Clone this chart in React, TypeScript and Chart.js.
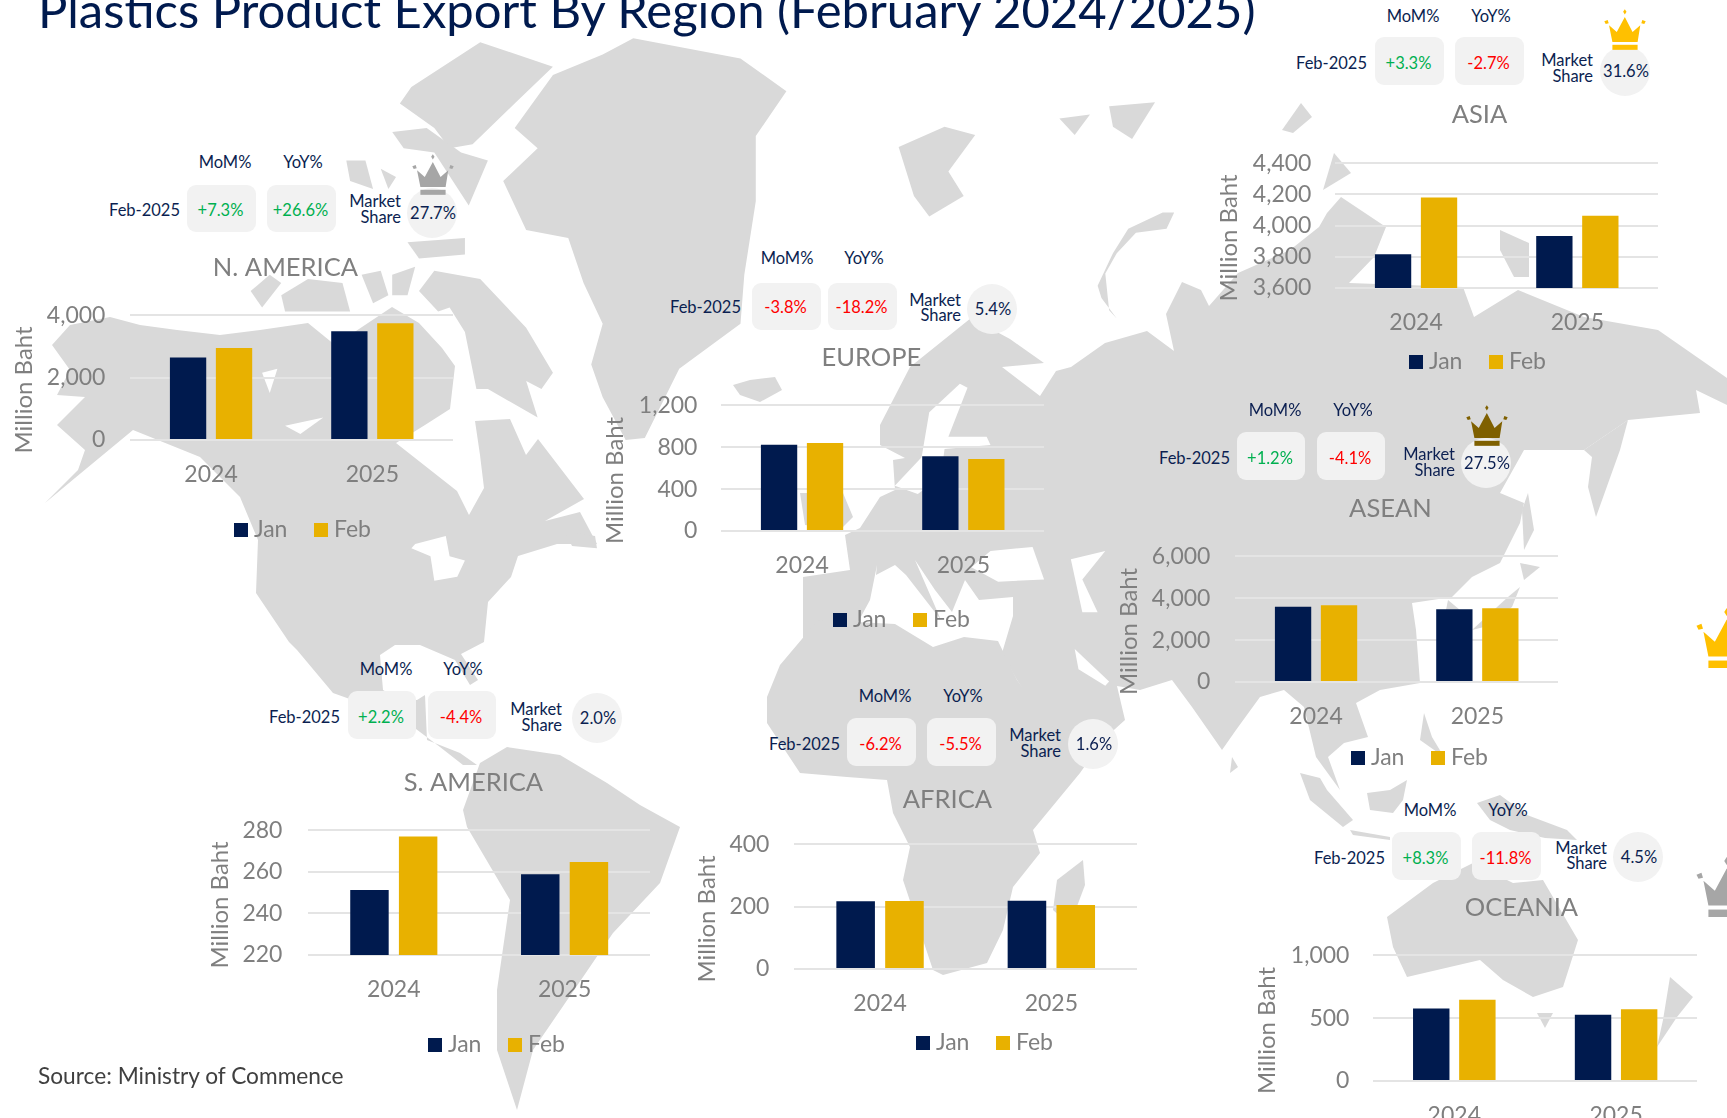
import React, { useEffect, useRef } from "react";
import { Chart, registerables } from "chart.js";

Chart.register(...registerables);

const years = ["2024", "2025"];
const seriesNames = ["Jan", "Feb"];

const naJan = [2645, 3488];
const naFeb = [2955, 3744];
const euJan = [824, 713];
const euFeb = [840, 687];
const asiaJan = [3816, 3934];
const asiaFeb = [4180, 4064];
const aseanJan = [3597, 3469];
const aseanFeb = [3660, 3517];
const saJan = [251.3, 258.9];
const saFeb = [277, 264.7];
const afJan = [217, 219];
const afFeb = [218, 205];
const ocJan = [576, 528];
const ocFeb = [647, 570];

const NAVY = "#001A4E";
const GOLD = "#E8B100";
const GREY = "#7F7F7F";
const TEXT = "#0B1F51";
const GREEN = "#00B050";
const RED = "#FF0000";
const FONT = "Lato, sans-serif";

type Panel = {
  title: string; jan: number[]; feb: number[]; min: number; max: number; step: number;
  plot: number[]; titleAt: number[]; legendAt: number[]; axisX: number; tickGap: number;
  mom: string; yoy: string; share: string;
  box: number[]; box2x: number; momX: number; yoyX: number; headY: number;
  febRight: number; febY: number; msRight: number; msY: number[];
  circle: number[]; crown?: { c: string; cx: number; top: number };
};

const panels: Panel[] = [
  { title: "N. AMERICA", jan: naJan, feb: naFeb, min: 0, max: 4000, step: 2000,
    plot: [130, 453, 315, 440], titleAt: [285, 267], legendAt: [234, 530], axisX: 24, tickGap: 25,
    mom: "+7.3%", yoy: "+26.6%", share: "27.7%", box: [187, 185, 69, 47], box2x: 267, momX: 225, yoyX: 303, headY: 162,
    febRight: 180, febY: 210, msRight: 401, msY: [201, 217], circle: [432, 213, 25, 25], crown: { c: "#A6A6A6", cx: 433, top: 154 } },
  { title: "EUROPE", jan: euJan, feb: euFeb, min: 0, max: 1200, step: 400,
    plot: [721, 1044, 405, 531], titleAt: [871, 357], legendAt: [833, 620], axisX: 615, tickGap: 24,
    mom: "-3.8%", yoy: "-18.2%", share: "5.4%", box: [752, 283, 69, 47], box2x: 828, momX: 787, yoyX: 864, headY: 258,
    febRight: 741, febY: 307, msRight: 961, msY: [300, 315], circle: [992, 309, 25, 25] },
  { title: "ASIA", jan: asiaJan, feb: asiaFeb, min: 3600, max: 4400, step: 200,
    plot: [1335, 1658, 163, 288], titleAt: [1479, 114], legendAt: [1409, 362], axisX: 1229, tickGap: 24,
    mom: "+3.3%", yoy: "-2.7%", share: "31.6%", box: [1375, 37, 69, 48], box2x: 1455, momX: 1413, yoyX: 1491, headY: 16,
    febRight: 1367, febY: 63, msRight: 1593, msY: [60, 76], circle: [1625, 71, 25, 25], crown: { c: "#FFC000", cx: 1625, top: 9 } },
  { title: "ASEAN", jan: aseanJan, feb: aseanFeb, min: 0, max: 6000, step: 2000,
    plot: [1235, 1558, 556, 682], titleAt: [1390, 508], legendAt: [1351, 758], axisX: 1129, tickGap: 25,
    mom: "+1.2%", yoy: "-4.1%", share: "27.5%", box: [1237, 432, 68, 48], box2x: 1317, momX: 1275, yoyX: 1353, headY: 410,
    febRight: 1230, febY: 458, msRight: 1455, msY: [454, 470], circle: [1486, 463, 25, 25], crown: { c: "#7F6000", cx: 1487, top: 405 } },
  { title: "S. AMERICA", jan: saJan, feb: saFeb, min: 220, max: 280, step: 20,
    plot: [308, 650, 830, 955], titleAt: [473, 782], legendAt: [428, 1045], axisX: 220, tickGap: 26,
    mom: "+2.2%", yoy: "-4.4%", share: "2.0%", box: [348, 691, 68, 48], box2x: 428, momX: 386, yoyX: 463, headY: 669,
    febRight: 340, febY: 717, msRight: 562, msY: [709, 725], circle: [597, 718, 25, 25] },
  { title: "AFRICA", jan: afJan, feb: afFeb, min: 0, max: 400, step: 200,
    plot: [794, 1137, 844, 969], titleAt: [947, 799], legendAt: [916, 1043], axisX: 707, tickGap: 25,
    mom: "-6.2%", yoy: "-5.5%", share: "1.6%", box: [847, 718, 69, 48], box2x: 927, momX: 885, yoyX: 963, headY: 696,
    febRight: 840, febY: 744, msRight: 1061, msY: [735, 751], circle: [1093, 744, 25, 25] },
  { title: "OCEANIA", jan: ocJan, feb: ocFeb, min: 0, max: 1000, step: 500,
    plot: [1373, 1697, 955, 1081], titleAt: [1521, 907], legendAt: [1455, 1170], axisX: 1267, tickGap: 24,
    mom: "+8.3%", yoy: "-11.8%", share: "4.5%", box: [1392, 832, 69, 48], box2x: 1472, momX: 1430, yoyX: 1508, headY: 810,
    febRight: 1385, febY: 858, msRight: 1607, msY: [848, 863], circle: [1638, 857, 25, 25] },
];

// Decorative base map outline (page pixels)
const landPage = [
  // North America
  "52,345 70,325 110,317 140,325 177,330 220,335 260,330 308,323 335,345 392,307 419,323 442,348 455,366 450,409 425,425 396,443 457,491 469,515 484,488 480,455 475,421 510,419 526,455 538,439 584,499 545,521 580,512 597,544 557,544 518,556 511,577 488,602 484,642 461,654 478,680 470,685 455,660 420,645 395,645 380,655 383,690 400,700 417,700 425,695 427,740 460,753 477,765 463,765 440,747 400,717 333,693 297,650 289,642 256,593 258,540 240,497 200,457 133,430 75,478 45,503 78,470 85,450 57,425 85,397 57,395 70,370",
  // South America
  "480,763 507,747 560,755 607,783 640,805 680,827 660,883 613,933 583,977 533,1050 517,1110 497,1050 497,990 510,900 467,827 463,810",
  // Eurasia
  "803,640 803,577 850,570 845,535 860,528 880,497 895,490 893,460 905,458 880,445 880,425 910,367 971,318 1010,339 1044,363 1002,367 1040,396 1056,371 1071,367 1105,343 1147,331 1174,351 1166,314 1182,282 1201,290 1209,306 1238,273 1290,250 1319,227 1327,213 1341,197 1371,217 1386,227 1374,257 1349,283 1463,287 1474,317 1518,290 1584,317 1658,330 1727,378 1727,405 1696,390 1700,413 1628,420 1584,450 1524,450 1500,493 1524,503 1520,523 1500,563 1472,577 1452,597 1412,603 1416,630 1420,683 1380,690 1356,703 1368,737 1344,743 1328,757 1340,790 1316,757 1304,707 1284,690 1260,697 1236,730 1222,750 1192,707 1172,680 1140,690 1117,686 1125,720 1105,738 1060,740 1030,700 1017,680 1002,653 1013,616 1013,597 979,600 965,580 952,612 935,590 925,575 915,560 941,620 906,575 895,565 876,575 877,565 870,600 850,637",
  // Africa
  "780,665 818,620 895,624 933,647 964,637 998,641 1017,680 1047,720 1060,737 1073,727 1117,720 1080,773 1033,830 1040,853 1013,887 1003,930 987,963 943,975 933,970 903,880 910,847 893,813 887,780 847,777 800,773 767,723 767,697",
  // Australia and Oceania
  "1387,917 1433,883 1473,863 1513,883 1543,880 1578,940 1563,987 1533,997 1503,980 1480,960 1407,977 1393,947",
  "1537,1013 1553,1013 1545,1028",
  "1670,977 1693,997 1677,1017 1657,1047 1663,1020",
  "1300,773 1320,778 1327,790 1353,820 1343,827 1310,800",
  "1350,830 1390,837 1390,840 1353,835",
  "1367,793 1390,790 1407,780 1403,800 1393,813 1370,810",
  "1477,803 1500,795 1527,815 1567,830 1577,840 1545,838 1510,830 1490,820",
  // Islands
  "1083,860 1057,880 1053,910 1070,925 1085,885",
  "800,493 843,493 853,517 840,530 805,525",
  "733,385 750,380 775,377 782,390 760,402 740,395",
  "1628,420 1620,450 1596,517 1588,487 1592,457 1584,450",
  "1528,493 1534,530 1524,550 1522,510",
  "1520,587 1512,607 1484,627 1472,630 1508,597",
  "1520,563 1540,567 1524,580",
  "1448,600 1472,620 1456,633 1444,620",
  "1424,713 1432,737 1444,757 1420,740",
  "1232,757 1238,767 1230,773",
  "1301,103 1312,117 1293,133 1282,130",
  "1334,153 1351,173 1323,190",
  "1500,230 1529,243 1529,277 1514,277 1500,250",
];
const landNorth = [
  // Greenland
  "740,370 830,290 770,240 870,110 1000,60 1080,20 1360,70 1480,150 1400,260 1400,420 1370,600 1360,720 1200,830 1110,1000 1060,1005 1000,900 970,820 1000,720 950,620 910,510 800,490",
  // Arctic Canada
  "500,140 680,30 870,90 770,180 660,280 600,290 560,240 470,180",
  "450,250 540,240 630,300 700,320 650,430 560,300 480,290",
  "520,640 560,590 680,610 800,730 870,840 840,880 800,860 830,950 700,880 670,880 640,740 600,680 570,690",
  "330,320 380,320 400,390 340,370",
  "420,340 460,360 440,390",
  "490,520 640,510 640,550 520,560",
  "450,600 510,580 490,650 450,650",
  "370,600 420,590 440,650 400,670",
  "160,650 230,610 320,620 340,690 170,690",
  "80,640 130,600 160,620 110,680",
  "900,1230 980,1240 985,1270 920,1265",
];
const landEurasiaN = [
  "310,140 430,90 510,110 440,200 480,260 390,310 350,260",
  "730,70 810,60 770,110",
  "860,40 980,30 920,120 870,90",
  "1030,300 1010,340 930,350 880,400 850,450 860,540 880,560 840,510 830,480 870,400 910,340 1000,300",
];
const watersNorth = [
  "170,970 270,950 210,990",
  "110,840 150,830 130,890",
  "510,1260 590,1240 600,1290 640,1300 620,1340 560,1350 550,1290 500,1270",
];
const watersEurasia = [
  "390,790 470,720 490,730 440,850 540,850 550,870 430,880 420,950 360,990 300,970 370,900",
  "550,1130 660,1120 690,1200 570,1205 500,1170",
  "760,1150 850,1130 790,1200 830,1280 790,1280",
  "770,1370 860,1450 850,1460 780,1420",
];

function swatch(color: string) {
  const c = document.createElement("canvas");
  c.width = 14;
  c.height = 14;
  const x = c.getContext("2d")!;
  x.fillStyle = color;
  x.fillRect(0, 0, 14, 14);
  return c;
}

const TITLE_SIZE = 25.5;
const TICK_SIZE = 23;
const AXIS_SIZE = 24;
const LEGEND_PAD = 33;

const placeBlocks = {
  id: "placeBlocks",
  afterLayout(chart: any, _a: any, o: any) {
    const t = chart.titleBlock;
    if (t) {
      t.left = o.titleX - 150;
      t.right = o.titleX + 150;
    }
    const l = chart.legend;
    if (l) {
      const w = l.right - l.left;
      l.left = o.legendX + 6 - LEGEND_PAD;
      l.right = l.left + w;
      l.top = o.legendY - LEGEND_PAD - TICK_SIZE * 0.6 + 2;
    }
  },
};

function PanelChart({ p }: { p: Panel }) {
  const ref = useRef<HTMLCanvasElement | null>(null);
  const [pl, pr, pt, pb] = p.plot;
  const lh = TITLE_SIZE * 1.2;
  const axisLh = AXIS_SIZE * 1.2;
  const left = p.axisX - axisLh / 2;
  const top = p.titleAt[1] - lh / 2;
  const width = pr - left;
  const height = p.legendAt[1] + 40 - top;

  useEffect(() => {
    const colors = [NAVY, GOLD];
    const chart = new Chart(ref.current!, {
      type: "bar",
      data: {
        labels: years,
        datasets: [
          { label: seriesNames[0], data: p.jan, backgroundColor: NAVY },
          { label: seriesNames[1], data: p.feb, backgroundColor: GOLD },
        ],
      },
      plugins: [placeBlocks],
      options: {
        animation: false,
        responsive: false,
        events: [],
        datasets: { bar: { categoryPercentage: 0.57, barPercentage: 0.79 } },
        layout: { padding: 0 },
        scales: {
          x: {
            grid: { display: false },
            border: { display: false },
            ticks: { color: GREY, font: { family: FONT, size: TICK_SIZE }, padding: 12.5, maxRotation: 0 },
            afterFit(s: any) {
              s.height = height - (pb - top) - s.chart.legend.height;
            },
          },
          y: {
            min: p.min,
            max: p.max,
            grid: { color: "#E4E4E4", lineWidth: 2, drawTicks: false },
            border: { display: false },
            ticks: {
              stepSize: p.step,
              color: GREY,
              font: { family: FONT, size: TICK_SIZE },
              padding: p.tickGap,
              callback: (v: any) => Number(v).toLocaleString("en-US"),
            },
            title: {
              display: true,
              text: "Million Baht    ",
              color: GREY,
              font: { family: FONT, size: AXIS_SIZE },
              padding: 0,
            },
            afterFit(s: any) {
              s.width = pl - left;
            },
          },
        },
        plugins: {
          tooltip: { enabled: false },
          title: {
            display: true,
            text: p.title,
            color: GREY,
            font: { family: FONT, size: TITLE_SIZE, weight: "normal" },
            padding: { top: 0, bottom: pt - top - lh },
          },
          legend: {
            display: true,
            position: "bottom",
            align: "start",
            labels: {
              font: { family: FONT, size: TICK_SIZE },
              color: GREY,
              usePointStyle: true,
              pointStyleWidth: 2,
              boxHeight: 14,
              padding: LEGEND_PAD,
              generateLabels: () =>
                seriesNames.map((n, i) => ({
                  text: n,
                  datasetIndex: i,
                  hidden: false,
                  fontColor: GREY,
                  lineWidth: 0,
                  pointStyle: swatch(colors[i]),
                })),
            },
          },
          placeBlocks: { titleX: p.titleAt[0] - left, legendX: p.legendAt[0] - left, legendY: p.legendAt[1] - top },
        } as any,
      } as any,
    });
    return () => chart.destroy();
  }, []);

  return (
    <canvas
      ref={ref}
      width={width}
      height={height}
      style={{ position: "absolute", left, top, width, height, display: "block" }}
    />
  );
}

function Crown({ c, x, y, w, h }: { c: string; x: number; y: number; w: number; h: number }) {
  return (
    <svg viewBox="0 0 125 121" style={{ position: "absolute", left: x, top: y, width: w, height: h }}>
      <g fill={c}>
        <polygon points="15,48 38,68 62,23 85,68 108,48 100,98 25,98" />
        <rect x="25" y="106" width="75" height="15" />
        <polygon points="62,0 67,8 62,16 57,8" />
        <polygon points="1,36 11,32 14,42 5,44" />
        <polygon points="124,36 114,32 111,42 120,44" />
      </g>
    </svg>
  );
}

function Label({ x, y, align, color, children }: any) {
  const tr = align === "right" ? "translate(-100%,-50%)" : "translate(-50%,-50%)";
  return (
    <div
      style={{
        position: "absolute", left: x, top: y, transform: tr, whiteSpace: "nowrap",
        font: `16.5px ${FONT}`, color: color || TEXT, lineHeight: "16px",
      }}
    >
      {children}
    </div>
  );
}

function Pills({ p }: { p: Panel }) {
  const [bx, by, bw, bh] = p.box;
  const pill = (x: number): React.CSSProperties => ({
    position: "absolute", left: x, top: by, width: bw, height: bh, background: "#F2F2F2", borderRadius: 9,
  });
  const tone = (s: string) => (s.startsWith("+") ? GREEN : RED);
  const [cx, cy, rx, ry] = p.circle;
  return (
    <>
      <Label x={p.momX} y={p.headY}>MoM%</Label>
      <Label x={p.yoyX} y={p.headY}>YoY%</Label>
      <Label x={p.febRight} y={p.febY} align="right">Feb-2025</Label>
      <div style={pill(bx)} />
      <div style={pill(p.box2x)} />
      <Label x={bx + bw / 2 - 1} y={p.febY} color={tone(p.mom)}>{p.mom}</Label>
      <Label x={p.box2x + bw / 2 - 1} y={p.febY} color={tone(p.yoy)}>{p.yoy}</Label>
      <Label x={p.msRight} y={p.msY[0]} align="right">Market</Label>
      <Label x={p.msRight} y={p.msY[1]} align="right">Share</Label>
      <div
        style={{
          position: "absolute", left: cx - rx, top: cy - ry, width: rx * 2, height: ry * 2,
          borderRadius: "50%", background: "#F2F2F2",
        }}
      />
      <Label x={cx + 1} y={cy}>{p.share}</Label>
      {p.crown && <Crown c={p.crown.c} x={p.crown.cx - 21} y={p.crown.top} w={42} h={41} />}
    </>
  );
}

export default function App() {
  useEffect(() => {
    document.body.style.margin = "0";
    document.body.style.overflow = "hidden";
  }, []);
  const poly = (pts: string[], fill: string) => pts.map((s, i) => <polygon key={i} points={s} fill={fill} />);
  return (
    <div style={{ position: "fixed", left: 0, top: 0, width: 1727, height: 1118, overflow: "hidden", background: "#fff" }}>
      <svg width={1727} height={1118} style={{ position: "absolute", left: 0, top: 0 }}>
        {poly(landPage, "#D9D9D9")}
        <g transform="translate(220,30) scale(0.3827,0.408)">
          {poly(landNorth, "#D9D9D9")}
          {poly(watersNorth, "#FFFFFF")}
        </g>
        <g transform="translate(780,90) scale(0.3827,0.408)">
          {poly(landEurasiaN, "#D9D9D9")}
          {poly(watersEurasia, "#FFFFFF")}
        </g>
      </svg>
      <div
        style={{
          position: "absolute", left: 38, top: -19, font: `49px/56px ${FONT}`, color: NAVY, whiteSpace: "nowrap",
        }}
      >
        Plastics Product Export By Region (February 2024/2025)
      </div>
      {panels.map((p) => (
        <PanelChart key={p.title} p={p} />
      ))}
      {panels.map((p) => (
        <Pills key={p.title} p={p} />
      ))}
      <Crown c="#FFC000" x={1692} y={608} w={70} h={60} />
      <Crown c="#A6A6A6" x={1692} y={857} w={70} h={60} />
      <div style={{ position: "absolute", left: 38, top: 1062, font: `22.7px/28px ${FONT}`, color: "#404040", whiteSpace: "nowrap" }}>
        Source: Ministry of Commence
      </div>
    </div>
  );
}
